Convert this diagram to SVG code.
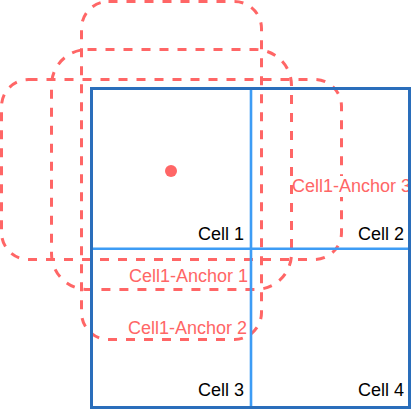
<svg xmlns="http://www.w3.org/2000/svg" width="415" height="411" viewBox="0 0 415 411">
  <style>
    .anchor { fill: none; stroke: #FF6666; stroke-width: 3; stroke-dasharray: 9 9; }
    .outer { fill: none; stroke: #2A6EBB; stroke-width: 3; }
    .inner { stroke: #3D9CF5; stroke-width: 2.6; fill: none; }
    .lbl { font-family: "Liberation Sans", Arial, Helvetica, sans-serif; font-size: 18px; }
    .cell { fill: #000000; text-anchor: end; }
    .red { fill: #FF6666; }
  </style>
  <rect width="415" height="411" fill="#FFFFFF"/>
  <g id="anchor1">
    <rect class="anchor" x="1.5" y="79.5" width="340" height="180" rx="27" ry="27"/>
  </g>
  <g id="anchor2">
    <rect class="anchor" x="81.5" y="1.5" width="180" height="338" rx="27" ry="27"/>
  </g>
  <g id="anchor3">
    <rect class="anchor" x="51.5" y="49.5" width="240" height="240" rx="36" ry="36"/>
  </g>
  <g id="anchor3-label">
    <rect x="293" y="176" width="117" height="21" fill="#FFFFFF"/>
    <text class="lbl red" x="292" y="191.5">Cell1-Anchor 3</text>
  </g>
  <g id="grid">
    <line class="inner" x1="251" y1="88.5" x2="251" y2="407.5"/>
    <line class="inner" x1="91.5" y1="248.7" x2="409.5" y2="248.7"/>
    <rect class="outer" x="91.5" y="88.5" width="318" height="319"/>
  </g>
  <g id="cell1"><text class="lbl cell" x="244" y="239.5">Cell 1</text></g>
  <g id="cell2"><text class="lbl cell" x="404" y="239.5">Cell 2</text></g>
  <g id="cell3"><text class="lbl cell" x="244" y="395.5">Cell 3</text></g>
  <g id="cell4"><text class="lbl cell" x="404" y="395.5">Cell 4</text></g>
  <g id="anchor1-label"><text class="lbl red" text-anchor="end" x="248" y="281.5">Cell1-Anchor 1</text></g>
  <g id="anchor2-label"><text class="lbl red" text-anchor="end" x="247" y="333.5">Cell1-Anchor 2</text></g>
  <g id="anchor-point"><circle cx="171" cy="171" r="6" fill="#FF6666"/></g>
</svg>
